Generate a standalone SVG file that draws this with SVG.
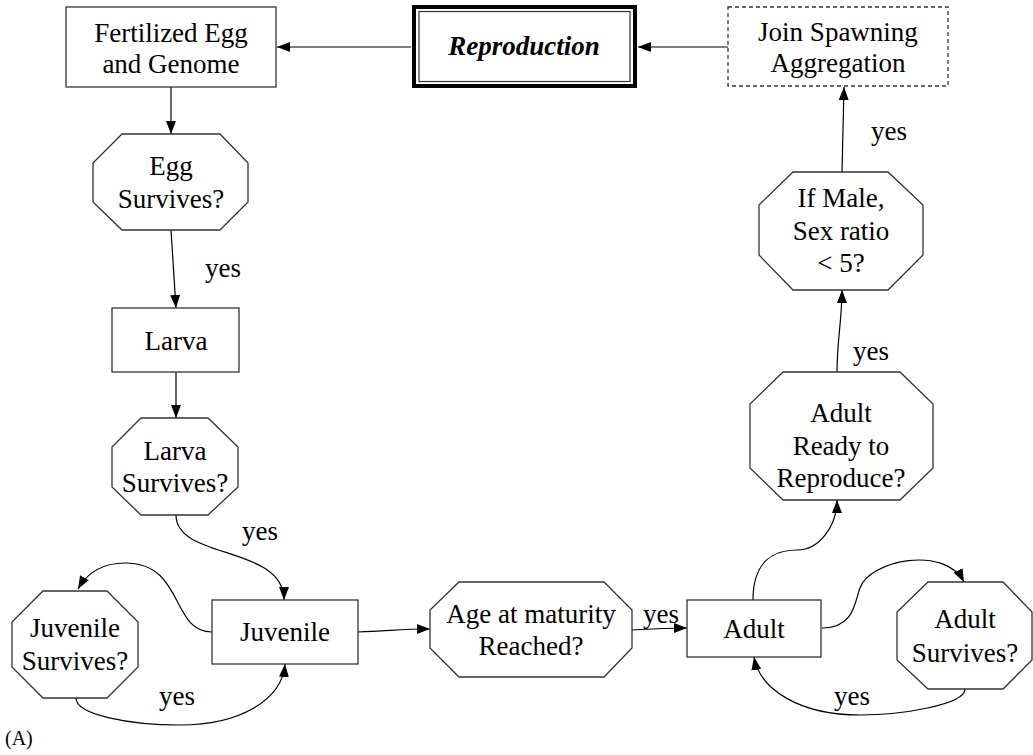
<svg xmlns="http://www.w3.org/2000/svg" width="1033" height="755" viewBox="0 0 1033 755">
<style>
.n{fill:#fff;stroke:#333;stroke-width:1.3}
.t{font-family:"Liberation Serif","Times New Roman",serif;font-size:27px;fill:#000;text-anchor:middle}
.c{fill:none;stroke:#000;stroke-width:1.2}
</style>
<defs>
<marker id="ah" markerUnits="userSpaceOnUse" markerWidth="14" markerHeight="11" refX="13" refY="5" orient="auto">
<path d="M0,0 L13,5 L0,10 z" fill="#000"/>
</marker>
</defs>
<rect width="1033" height="755" fill="#fff"/>
<g id="connectors">
<path class="c" marker-end="url(#ah)" d="M411,47 L277,47"/>
<path class="c" marker-end="url(#ah)" d="M728,47 L638,47"/>
<path class="c" marker-end="url(#ah)" d="M171,87 L171,134"/>
<path class="c" marker-end="url(#ah)" d="M171,230 L176,308"/>
<path class="c" marker-end="url(#ah)" d="M176,372 L176,418"/>
<path class="c" marker-end="url(#ah)" d="M176,515 C176,560 284,545 284,600"/>
<path class="c" marker-end="url(#ah)" d="M212,632 C170,632 185,563 125,563 C100,563 86,575 78,589"/>
<path class="c" marker-end="url(#ah)" d="M76,698 C76,715 130,725 180,725 C240,725 282,700 285,664"/>
<path class="c" marker-end="url(#ah)" d="M358,632 C390,631 400,629 430,629"/>
<path class="c" marker-end="url(#ah)" d="M632,630 C650,629 670,628 687,628"/>
<path class="c" marker-end="url(#ah)" d="M753,600 C753,560 775,550 797,550 C820,550 837,525 837,500"/>
<path class="c" marker-end="url(#ah)" d="M822,628 C855,628 855,600 860,588 C870,560 945,545 964,582"/>
<path class="c" marker-end="url(#ah)" d="M965,689 C965,705 900,715 860,715 C800,715 760,690 754,657"/>
<path class="c" marker-end="url(#ah)" d="M837,372 C837,340 842,320 842,290"/>
<path class="c" marker-end="url(#ah)" d="M842,172 L844,87"/>
<text class="t" x="223" y="277">yes</text>
<text class="t" x="260" y="540">yes</text>
<text class="t" x="177" y="705">yes</text>
<text class="t" x="661" y="623">yes</text>
<text class="t" x="852" y="705">yes</text>
<text class="t" x="871" y="360">yes</text>
<text class="t" x="889" y="140">yes</text>
</g>
<g id="fertilized">
<rect class="n" x="66" y="7" width="210" height="80"/>
<text class="t" x="171" y="42">Fertilized Egg</text>
<text class="t" x="171" y="73">and Genome</text>
</g>
<g id="reproduction">
<rect x="414" y="7" width="221" height="79" fill="#fff" stroke="#000" stroke-width="4"/>
<rect x="419" y="11.5" width="211" height="70" fill="none" stroke="#333" stroke-width="1.2"/>
<text class="t" x="524" y="55" font-weight="bold" font-style="italic">Reproduction</text>
</g>
<g id="join">
<rect class="n" x="728" y="7" width="220" height="79" stroke-dasharray="4,3"/>
<text class="t" x="838" y="41">Join Spawning</text>
<text class="t" x="838" y="72">Aggregation</text>
</g>
<g id="egg-survives">
<polygon class="n" points="122,134 220,134 248,163 248,202 220,230 122,230 93,202 93,163"/>
<text class="t" x="171" y="175">Egg</text>
<text class="t" x="171" y="208">Survives?</text>
</g>
<g id="larva">
<rect class="n" x="112" y="308" width="127" height="64"/>
<text class="t" x="176" y="350">Larva</text>
</g>
<g id="larva-survives">
<polygon class="n" points="141,418 208,418 238,447 238,487 208,515 141,515 112,487 112,447"/>
<text class="t" x="175" y="460">Larva</text>
<text class="t" x="175" y="492">Survives?</text>
</g>
<g id="juvenile">
<rect class="n" x="212" y="600" width="146" height="64"/>
<text class="t" x="285" y="641">Juvenile</text>
</g>
<g id="juvenile-survives">
<polygon class="n" points="43,591 107,591 138,622 138,667 107,698 43,698 12,667 12,622"/>
<text class="t" x="75" y="637">Juvenile</text>
<text class="t" x="75" y="670">Survives?</text>
</g>
<g id="age">
<polygon class="n" points="459,582 604,582 632,610 632,648 604,677 459,677 430,648 430,610"/>
<text class="t" x="531" y="623">Age at maturity</text>
<text class="t" x="531" y="655">Reached?</text>
</g>
<g id="adult">
<rect class="n" x="687" y="600" width="134" height="57"/>
<text class="t" x="754" y="638">Adult</text>
</g>
<g id="adult-survives">
<polygon class="n" points="928,582 1003,582 1032,612 1032,660 1003,689 928,689 897,660 897,612"/>
<text class="t" x="965" y="628">Adult</text>
<text class="t" x="965" y="662">Survives?</text>
</g>
<g id="adult-ready">
<polygon class="n" points="783,372 900,372 933,404 933,468 900,500 783,500 750,468 750,404"/>
<text class="t" x="841" y="422">Adult</text>
<text class="t" x="841" y="455">Ready to</text>
<text class="t" x="841" y="487">Reproduce?</text>
</g>
<g id="if-male">
<polygon class="n" points="793,172 888,172 923,205 923,255 888,290 793,290 759,255 759,205"/>
<text class="t" x="841" y="207">If Male,</text>
<text class="t" x="841" y="240">Sex ratio</text>
<text class="t" x="841" y="272">&lt; 5?</text>
</g>
<text x="5" y="745" font-family="Liberation Serif,serif" font-size="20">(A)</text>
</svg>
